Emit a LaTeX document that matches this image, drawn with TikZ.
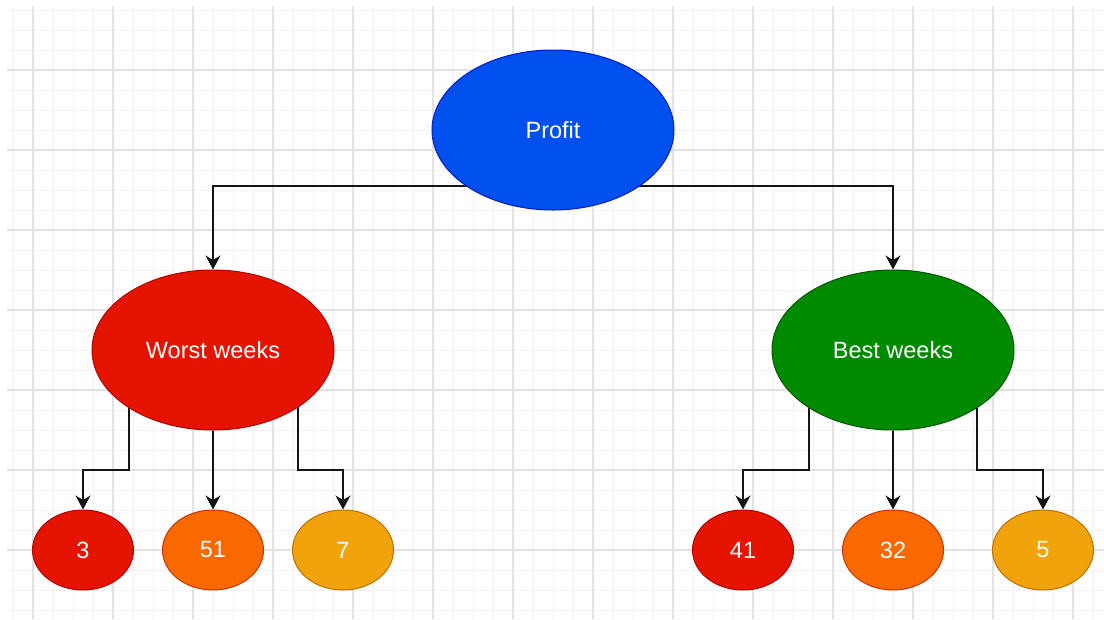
\documentclass[tikz,border=0pt]{standalone}
\usepackage{fontspec}
\setmainfont{Liberation Sans}
\usetikzlibrary{shapes.geometric,arrows.meta,backgrounds}

\definecolor{gridminor}{HTML}{F2F2F2}
\definecolor{gridmajor}{HTML}{E2E2E2}
\definecolor{blueF}{HTML}{0050EF}\definecolor{blueS}{HTML}{001DBC}
\definecolor{redF}{HTML}{E51400}\definecolor{redS}{HTML}{B20000}
\definecolor{greenF}{HTML}{008A00}\definecolor{greenS}{HTML}{005700}
\definecolor{orangeF}{HTML}{FA6800}\definecolor{orangeS}{HTML}{C73500}
\definecolor{amberF}{HTML}{F0A30A}\definecolor{amberS}{HTML}{BD7000}
\definecolor{wire}{HTML}{141414}

\tikzset{
  blob/.style={ellipse, inner sep=0pt, line width=1pt, text=white,
    font=\fontsize{23.5}{27}\selectfont},
  bigblob/.style={blob, minimum width=242pt, minimum height=160pt},
  smallblob/.style={blob, minimum width=101pt, minimum height=80pt},
  fillblue/.style={fill=blueF, draw=blueS},
  fillred/.style={fill=redF, draw=redS},
  fillgreen/.style={fill=greenF, draw=greenS},
  fillorange/.style={fill=orangeF, draw=orangeS},
  fillamber/.style={fill=amberF, draw=amberS},
  conn/.style={draw=wire, line width=1.8pt,
    -{Stealth[length=14pt, width=15pt, inset=4.5pt]}},
}

\begin{document}
\begin{tikzpicture}[x=1pt, y=-1pt]
\useasboundingbox (0,0) rectangle (1104,619);

% nodes
\node[bigblob, fillblue]  (profit) at (553,130) {Profit};
\node[bigblob, fillred]   (worst)  at (213,350) {Worst weeks};
\node[bigblob, fillgreen] (best)   at (893,350) {Best weeks};

\node[smallblob, fillred]    (w1) at (83,550)   {3};
\node[smallblob, fillorange] (w2) at (213,550)  {51};
\node[smallblob, fillamber]  (w3) at (343,550)  {7};
\node[smallblob, fillred]    (b1) at (743,550)  {41};
\node[smallblob, fillorange] (b2) at (893,550)  {32};
\node[smallblob, fillamber]  (b3) at (1043,550) {5};

\begin{scope}[on background layer]
  \fill[white] (0,0) rectangle (1104,619);
  % drawing grid
  \foreach \x in {13,33,...,1104}
    \draw[gridminor, line width=1pt] (\x,7) -- (\x,619);
  \foreach \y in {10,30,...,619}
    \draw[gridminor, line width=1pt] (7,\y) -- (1104,\y);
  \foreach \x in {33,113,...,1104}
    \draw[gridmajor, line width=1.3pt] (\x,7) -- (\x,619);
  \foreach \y in {70,150,...,619}
    \draw[gridmajor, line width=1.3pt] (7,\y) -- (1104,\y);

  % connectors
  \draw[conn] (profit.center) ++(0,56) -| (worst);
  \draw[conn] (profit.center) ++(0,56) -| (best);

  \draw[conn] (worst.center) ++(-84,0) -- ++(0,120) -| (w1);
  \draw[conn] (worst) -- (w2);
  \draw[conn] (worst.center) ++(85,0) -- ++(0,120) -| (w3);

  \draw[conn] (best.center) ++(-84,0) -- ++(0,120) -| (b1);
  \draw[conn] (best) -- (b2);
  \draw[conn] (best.center) ++(84,0) -- ++(0,120) -| (b3);
\end{scope}
\end{tikzpicture}
\end{document}
